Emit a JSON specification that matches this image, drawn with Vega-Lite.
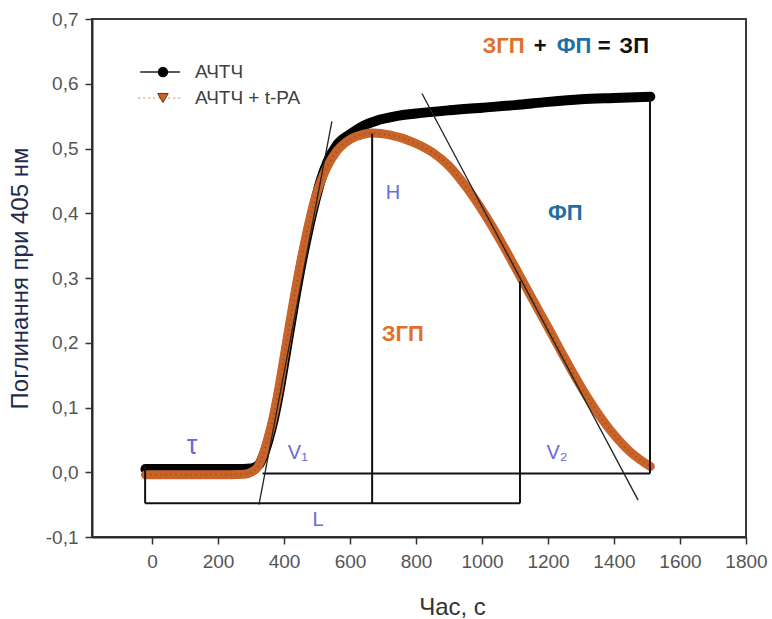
{
  "$schema": "https://vega.github.io/schema/vega-lite/v6.json",
  "width": 654,
  "height": 518,
  "autosize": {"type": "none"},
  "padding": {"left": 92, "top": 19, "right": 26, "bottom": 82},
  "background": "white",
  "config": {
    "font": "Liberation Sans",
    "view": {"stroke": "#3a3a3a", "strokeWidth": 2},
    "axis": {
      "grid": false,
      "domainColor": "#2a2a2a",
      "domainWidth": 2,
      "tickColor": "#333333",
      "tickWidth": 1.5,
      "tickSize": 7,
      "labelColor": "#555555",
      "labelFont": "Liberation Sans",
      "labelFontSize": 19,
      "labelFlush": false,
      "labelOverlap": false,
      "titleFont": "Liberation Sans",
      "titleFontWeight": "normal"
    }
  },
  "datasets": {
    "curves": [
      {"series": "АЧТЧ", "x": -20, "y": 0.005},
      {"series": "АЧТЧ", "x": 50, "y": 0.005},
      {"series": "АЧТЧ", "x": 150, "y": 0.005},
      {"series": "АЧТЧ", "x": 250, "y": 0.005},
      {"series": "АЧТЧ", "x": 300, "y": 0.006},
      {"series": "АЧТЧ", "x": 324, "y": 0.012},
      {"series": "АЧТЧ", "x": 339, "y": 0.028},
      {"series": "АЧТЧ", "x": 354, "y": 0.052},
      {"series": "АЧТЧ", "x": 369, "y": 0.082},
      {"series": "АЧТЧ", "x": 384, "y": 0.12},
      {"series": "АЧТЧ", "x": 399, "y": 0.164},
      {"series": "АЧТЧ", "x": 414, "y": 0.21},
      {"series": "АЧТЧ", "x": 432, "y": 0.264},
      {"series": "АЧТЧ", "x": 452, "y": 0.32},
      {"series": "АЧТЧ", "x": 473, "y": 0.372},
      {"series": "АЧТЧ", "x": 494, "y": 0.418},
      {"series": "АЧТЧ", "x": 512, "y": 0.452},
      {"series": "АЧТЧ", "x": 532, "y": 0.48},
      {"series": "АЧТЧ", "x": 560, "y": 0.505},
      {"series": "АЧТЧ", "x": 600, "y": 0.522},
      {"series": "АЧТЧ", "x": 640, "y": 0.535},
      {"series": "АЧТЧ", "x": 680, "y": 0.543},
      {"series": "АЧТЧ", "x": 740, "y": 0.55},
      {"series": "АЧТЧ", "x": 800, "y": 0.554},
      {"series": "АЧТЧ", "x": 900, "y": 0.559},
      {"series": "АЧТЧ", "x": 1000, "y": 0.563},
      {"series": "АЧТЧ", "x": 1100, "y": 0.567},
      {"series": "АЧТЧ", "x": 1200, "y": 0.572},
      {"series": "АЧТЧ", "x": 1300, "y": 0.576},
      {"series": "АЧТЧ", "x": 1400, "y": 0.578},
      {"series": "АЧТЧ", "x": 1510, "y": 0.58},
      {"series": "АЧТЧ + t-PA", "x": -20, "y": -0.004},
      {"series": "АЧТЧ + t-PA", "x": 100, "y": -0.004},
      {"series": "АЧТЧ + t-PA", "x": 200, "y": -0.004},
      {"series": "АЧТЧ + t-PA", "x": 280, "y": -0.003},
      {"series": "АЧТЧ + t-PA", "x": 300, "y": 0.0},
      {"series": "АЧТЧ + t-PA", "x": 320, "y": 0.008},
      {"series": "АЧТЧ + t-PA", "x": 335, "y": 0.025},
      {"series": "АЧТЧ + t-PA", "x": 350, "y": 0.05},
      {"series": "АЧТЧ + t-PA", "x": 365, "y": 0.08},
      {"series": "АЧТЧ + t-PA", "x": 380, "y": 0.118},
      {"series": "АЧТЧ + t-PA", "x": 395, "y": 0.162},
      {"series": "АЧТЧ + t-PA", "x": 410, "y": 0.208},
      {"series": "АЧТЧ + t-PA", "x": 428, "y": 0.262},
      {"series": "АЧТЧ + t-PA", "x": 448, "y": 0.318},
      {"series": "АЧТЧ + t-PA", "x": 469, "y": 0.37},
      {"series": "АЧТЧ + t-PA", "x": 490, "y": 0.415},
      {"series": "АЧТЧ + t-PA", "x": 510, "y": 0.447},
      {"series": "АЧТЧ + t-PA", "x": 530, "y": 0.471},
      {"series": "АЧТЧ + t-PA", "x": 560, "y": 0.496},
      {"series": "АЧТЧ + t-PA", "x": 600, "y": 0.514},
      {"series": "АЧТЧ + t-PA", "x": 640, "y": 0.522},
      {"series": "АЧТЧ + t-PA", "x": 670, "y": 0.524},
      {"series": "АЧТЧ + t-PA", "x": 720, "y": 0.521},
      {"series": "АЧТЧ + t-PA", "x": 790, "y": 0.51},
      {"series": "АЧТЧ + t-PA", "x": 850, "y": 0.494},
      {"series": "АЧТЧ + t-PA", "x": 900, "y": 0.473},
      {"series": "АЧТЧ + t-PA", "x": 950, "y": 0.442},
      {"series": "АЧТЧ + t-PA", "x": 1000, "y": 0.405},
      {"series": "АЧТЧ + t-PA", "x": 1050, "y": 0.363},
      {"series": "АЧТЧ + t-PA", "x": 1100, "y": 0.317},
      {"series": "АЧТЧ + t-PA", "x": 1150, "y": 0.27},
      {"series": "АЧТЧ + t-PA", "x": 1200, "y": 0.224},
      {"series": "АЧТЧ + t-PA", "x": 1250, "y": 0.177},
      {"series": "АЧТЧ + t-PA", "x": 1300, "y": 0.132},
      {"series": "АЧТЧ + t-PA", "x": 1350, "y": 0.092},
      {"series": "АЧТЧ + t-PA", "x": 1400, "y": 0.058},
      {"series": "АЧТЧ + t-PA", "x": 1450, "y": 0.031},
      {"series": "АЧТЧ + t-PA", "x": 1480, "y": 0.019},
      {"series": "АЧТЧ + t-PA", "x": 1510, "y": 0.009}
    ],
    "frameLines": [
      {"x": -21, "y": -0.048, "x2": 1115, "y2": -0.048},
      {"x": -21, "y": -0.048, "x2": -21, "y2": 0.01},
      {"x": 667, "y": -0.048, "x2": 667, "y2": 0.523},
      {"x": 1115, "y": -0.048, "x2": 1115, "y2": 0.295},
      {"x": 335, "y": -0.002, "x2": 1509, "y2": -0.002},
      {"x": 1509, "y": -0.002, "x2": 1509, "y2": 0.58}
    ],
    "tangents": [
      {"x": 324, "y": -0.05, "x2": 545, "y2": 0.542},
      {"x": 818, "y": 0.585, "x2": 1473, "y2": -0.043}
    ],
    "notes": [
      {"group": "tau", "label": "τ", "x": 121, "y": 0.041},
      {"group": "param", "label": "V₁", "x": 442, "y": 0.029},
      {"group": "param", "label": "L", "x": 503, "y": -0.074},
      {"group": "param", "label": "H", "x": 730, "y": 0.432},
      {"group": "param", "label": "V₂", "x": 1227, "y": 0.029},
      {"group": "zgp", "label": "ЗГП", "x": 760, "y": 0.214},
      {"group": "zgp", "label": "ЗГП", "x": 1065, "y": 0.659},
      {"group": "fp", "label": "ФП", "x": 1252, "y": 0.4},
      {"group": "fp", "label": "ФП", "x": 1279, "y": 0.659},
      {"group": "zp", "label": "+", "x": 1176, "y": 0.659},
      {"group": "zp", "label": "=", "x": 1370, "y": 0.659},
      {"group": "zp", "label": "ЗП", "x": 1461, "y": 0.659}
    ],
    "legendLines": [
      {"series": "АЧТЧ", "x": -36, "y": 0.618},
      {"series": "АЧТЧ", "x": 85, "y": 0.618},
      {"series": "АЧТЧ + t-PA", "x": -42, "y": 0.578},
      {"series": "АЧТЧ + t-PA", "x": 94, "y": 0.578}
    ],
    "legendItems": [
      {"series": "АЧТЧ", "x": 33, "tx": 130, "y": 0.618},
      {"series": "АЧТЧ + t-PA", "x": 33, "tx": 130, "y": 0.578}
    ]
  },
  "encoding": {
    "x": {
      "field": "x",
      "type": "quantitative",
      "scale": {"domain": [-182, 1800], "nice": false, "zero": false},
      "axis": {
        "values": [0, 200, 400, 600, 800, 1000, 1200, 1400, 1600, 1800],
        "format": "d",
        "labelPadding": 8,
        "title": "Час, с",
        "titleFontSize": 24,
        "titleColor": "#333333",
        "titleX": 360,
        "titleY": 70,
        "titleBaseline": "middle"
      }
    },
    "y": {
      "field": "y",
      "type": "quantitative",
      "scale": {"domain": [-0.1, 0.7], "nice": false, "zero": false},
      "axis": {
        "values": [-0.1, 0, 0.1, 0.2, 0.3, 0.4, 0.5, 0.6, 0.7],
        "labelExpr": "replace(replace(format(datum.value, '.1f'), '.', ','), '−', '-')",
        "labelPadding": 7,
        "title": "Поглинання при 405 нм",
        "titleFontSize": 24,
        "titleColor": "#1f2b4d",
        "titleX": -72,
        "titleY": 259,
        "titleAngle": -90,
        "titleAlign": "center",
        "titleBaseline": "middle"
      }
    }
  },
  "layer": [
    {
      "data": {"name": "curves"},
      "transform": [{"filter": "datum.series === 'АЧТЧ'"}],
      "mark": {"type": "line", "color": "#000000", "strokeWidth": 10, "interpolate": "monotone", "strokeCap": "round"}
    },
    {
      "data": {"name": "curves"},
      "transform": [{"filter": "datum.series === 'АЧТЧ + t-PA'"}],
      "mark": {"type": "line", "color": "#c8642a", "strokeWidth": 9, "interpolate": "monotone", "strokeCap": "round"}
    },
    {
      "data": {"name": "curves"},
      "transform": [{"filter": "datum.series === 'АЧТЧ + t-PA'"}],
      "mark": {"type": "line", "color": "#6b2e0c", "strokeWidth": 2, "strokeDash": [1, 4], "opacity": 0.45, "interpolate": "monotone"}
    },
    {
      "data": {"name": "frameLines"},
      "mark": {"type": "rule", "color": "#111111", "strokeWidth": 2},
      "encoding": {"x2": {"field": "x2"}, "y2": {"field": "y2"}}
    },
    {
      "data": {"name": "tangents"},
      "mark": {"type": "rule", "color": "#222222", "strokeWidth": 1.3},
      "encoding": {"x2": {"field": "x2"}, "y2": {"field": "y2"}}
    },
    {
      "data": {"name": "notes"},
      "transform": [{"filter": "datum.group === 'param'"}],
      "mark": {"type": "text", "color": "#6a6ad8", "fontSize": 20, "align": "center", "baseline": "middle"},
      "encoding": {"text": {"field": "label"}}
    },
    {
      "data": {"name": "notes"},
      "transform": [{"filter": "datum.group === 'tau'"}],
      "mark": {"type": "text", "color": "#6a6ad8", "fontSize": 27, "align": "center", "baseline": "middle"},
      "encoding": {"text": {"field": "label"}}
    },
    {
      "data": {"name": "notes"},
      "transform": [{"filter": "datum.group === 'zgp'"}],
      "mark": {"type": "text", "color": "#e0702a", "fontSize": 22, "fontWeight": "bold", "align": "center", "baseline": "middle"},
      "encoding": {"text": {"field": "label"}}
    },
    {
      "data": {"name": "notes"},
      "transform": [{"filter": "datum.group === 'fp'"}],
      "mark": {"type": "text", "color": "#1d6fa5", "fontSize": 22, "fontWeight": "bold", "align": "center", "baseline": "middle"},
      "encoding": {"text": {"field": "label"}}
    },
    {
      "data": {"name": "notes"},
      "transform": [{"filter": "datum.group === 'zp'"}],
      "mark": {"type": "text", "color": "#111111", "fontSize": 22, "fontWeight": "bold", "align": "center", "baseline": "middle"},
      "encoding": {"text": {"field": "label"}}
    },
    {
      "data": {"name": "legendLines"},
      "transform": [{"filter": "datum.series === 'АЧТЧ'"}],
      "mark": {"type": "line", "color": "#222222", "strokeWidth": 1.5}
    },
    {
      "data": {"name": "legendLines"},
      "transform": [{"filter": "datum.series === 'АЧТЧ + t-PA'"}],
      "mark": {"type": "line", "color": "#e3b08c", "strokeWidth": 1.5, "strokeDash": [2, 3]}
    },
    {
      "data": {"name": "legendItems"},
      "transform": [{"filter": "datum.series === 'АЧТЧ'"}],
      "mark": {"type": "point", "shape": "circle", "filled": true, "color": "#000000", "size": 110, "opacity": 1}
    },
    {
      "data": {"name": "legendItems"},
      "transform": [{"filter": "datum.series === 'АЧТЧ + t-PA'"}],
      "mark": {"type": "point", "shape": "triangle-down", "filled": true, "color": "#c8642a", "stroke": "#6b2e0c", "strokeWidth": 1, "size": 110, "opacity": 1}
    },
    {
      "data": {"name": "legendItems"},
      "mark": {"type": "text", "color": "#404040", "fontSize": 19, "align": "left", "baseline": "middle"},
      "encoding": {"x": {"field": "tx", "type": "quantitative"}, "text": {"field": "series"}}
    }
  ]
}
